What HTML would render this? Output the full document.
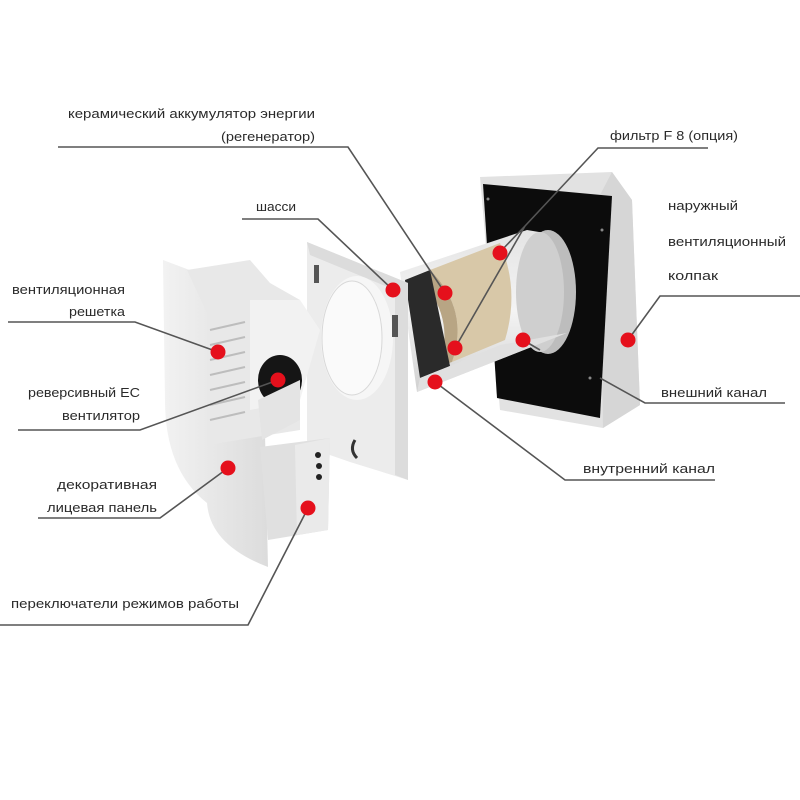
<!DOCTYPE html>
<html><head><meta charset="utf-8"><style>
html,body{margin:0;padding:0;background:#fff;}
svg{display:block}
text{font-family:"Liberation Sans","DejaVu Sans",sans-serif;font-size:13px;fill:#2a2a2a;}
</style></head><body>
<svg width="800" height="800" viewBox="0 0 800 800" xmlns="http://www.w3.org/2000/svg">
<defs>
<linearGradient id="tube" x1="0" y1="0" x2="0" y2="1">
<stop offset="0" stop-color="#e4e4e4"/><stop offset="0.5" stop-color="#f4f4f4"/><stop offset="1" stop-color="#d0d0d0"/>
</linearGradient>
<linearGradient id="panel" x1="0" y1="0" x2="1" y2="0">
<stop offset="0" stop-color="#f2f2f2"/><stop offset="1" stop-color="#dcdcdc"/>
</linearGradient>
</defs>

<polygon points="480,177 612,172 632,200 640,405 603,428 500,410" fill="#e2e2e2"/>
<polygon points="612,172 632,200 640,405 603,428 600,195" fill="#d6d6d6"/>
<polygon points="483,184 612,196 600,418 497,398" fill="#0c0c0c"/>
<circle cx="488" cy="199" r="1.5" fill="#888"/><circle cx="602" cy="230" r="1.5" fill="#888"/><circle cx="590" cy="378" r="1.5" fill="#888"/>

<polygon points="400,272 527,230 557,235 567,333 417,392" fill="url(#tube)"/>
<ellipse cx="548" cy="292" rx="28" ry="62" fill="#bdbdbd"/>
<ellipse cx="540" cy="292" rx="24" ry="60" fill="#cfcfcf"/>
<path d="M430,270 L500,243 Q520,290 505,340 L452,362 Q470,310 430,270 Z" fill="#d8c8a8"/>
<path d="M430,270 Q470,310 452,362 L440,366 Q455,315 420,280 Z" fill="#b8a584"/>
<polygon points="405,280 430,270 450,366 420,378" fill="#2a2a2a"/>
<polygon points="420,378 450,366 500,345 567,333 417,392" fill="#e0e0e0"/>

<polygon points="307,242 408,283 408,480 350,462 307,447" fill="#ececec"/>
<polygon points="307,242 408,283 408,480 395,475 395,290 310,255" fill="#dcdcdc"/>
<ellipse cx="357" cy="338" rx="36" ry="62" fill="#f6f6f6"/>
<ellipse cx="352" cy="338" rx="30" ry="57" fill="#fafafa" stroke="#d8d8d8"/>
<rect x="392" y="315" width="6" height="22" fill="#555"/>
<rect x="314" y="265" width="5" height="18" fill="#555"/>
<path d="M355,440 q-6,10 2,18" stroke="#333" stroke-width="3" fill="none"/>

<path d="M163,260 L200,274 L262,300 L268,567 Q210,545 207,503 Q165,470 165,400 Z" fill="url(#panel)"/>
<polygon points="187,270 250,260 270,283 300,300 300,430 207,445 207,313" fill="#e8e8e8"/>
<g stroke="#bdbdbd" stroke-width="2">
<line x1="210" y1="330" x2="245" y2="322"/><line x1="210" y1="345" x2="245" y2="337"/>
<line x1="210" y1="360" x2="245" y2="352"/><line x1="210" y1="375" x2="245" y2="367"/>
<line x1="210" y1="390" x2="245" y2="382"/><line x1="210" y1="405" x2="245" y2="397"/>
<line x1="210" y1="420" x2="245" y2="412"/>
</g>
<polygon points="250,300 300,300 320,330 300,400 250,410" fill="#f2f2f2"/>
<ellipse cx="280" cy="380" rx="22" ry="25" fill="#151515"/>
<polygon points="258,400 300,380 300,420 262,440" fill="#e4e4e4"/>
<polygon points="260,447 330,438 328,530 268,540" fill="#e0e0e0"/>
<polygon points="295,445 330,438 328,530 297,535" fill="#eaeaea"/>
<circle cx="318" cy="455" r="3" fill="#222"/><circle cx="319" cy="466" r="3" fill="#222"/><circle cx="319" cy="477" r="3" fill="#222"/>

<g stroke="#555" stroke-width="1.6" fill="none">
<polyline points="58,147 348,147 445,293"/>
<polyline points="708,148 598,148 525,226"/>
<line x1="525" y1="226" x2="500" y2="252"/>
<line x1="525" y1="226" x2="455" y2="348"/>
<polyline points="242,219 318,219 393,290"/>
<polyline points="800,296 660,296 628,340"/>
<polyline points="8,322 135,322 218,352"/>
<polyline points="18,430 140,430 278,380"/>
<polyline points="38,518 160,518 228,468"/>
<polyline points="0,625 248,625 308,508"/>
<polyline points="600,378 645,403 785,403"/>
<polyline points="435,382 565,480 715,480"/>
<line x1="523" y1="340" x2="540" y2="350"/>
</g>

<g fill="#e5101c">
<circle cx="393" cy="290" r="7.5"/><circle cx="445" cy="293" r="7.5"/>
<circle cx="500" cy="253" r="7.5"/><circle cx="455" cy="348" r="7.5"/>
<circle cx="523" cy="340" r="7.5"/><circle cx="628" cy="340" r="7.5"/>
<circle cx="435" cy="382" r="7.5"/><circle cx="218" cy="352" r="7.5"/>
<circle cx="278" cy="380" r="7.5"/><circle cx="228" cy="468" r="7.5"/>
<circle cx="308" cy="508" r="7.5"/>
</g>

<text x="315" y="118" text-anchor="end" textLength="247" lengthAdjust="spacingAndGlyphs">керамический аккумулятор энергии</text>
<text x="315" y="141" text-anchor="end" textLength="94" lengthAdjust="spacingAndGlyphs">(регенератор)</text>
<text x="610" y="140" textLength="128" lengthAdjust="spacingAndGlyphs">фильтр  F 8 (опция)</text>
<text x="256" y="211" textLength="40" lengthAdjust="spacingAndGlyphs">шасси</text>
<text x="668" y="210" textLength="70" lengthAdjust="spacingAndGlyphs">наружный</text>
<text x="668" y="246" textLength="118" lengthAdjust="spacingAndGlyphs">вентиляционный</text>
<text x="668" y="280" textLength="50" lengthAdjust="spacingAndGlyphs">колпак</text>
<text x="12" y="294" textLength="113" lengthAdjust="spacingAndGlyphs">вентиляционная</text>
<text x="125" y="316" text-anchor="end" textLength="56" lengthAdjust="spacingAndGlyphs">решетка</text>
<text x="140" y="397" text-anchor="end" textLength="112" lengthAdjust="spacingAndGlyphs">реверсивный EC</text>
<text x="140" y="420" text-anchor="end" textLength="78" lengthAdjust="spacingAndGlyphs">вентилятор</text>
<text x="157" y="489" text-anchor="end" textLength="100" lengthAdjust="spacingAndGlyphs">декоративная</text>
<text x="157" y="512" text-anchor="end" textLength="110" lengthAdjust="spacingAndGlyphs">лицевая панель</text>
<text x="11" y="608" textLength="228" lengthAdjust="spacingAndGlyphs">переключатели режимов работы</text>
<text x="661" y="397" textLength="106" lengthAdjust="spacingAndGlyphs">внешний канал</text>
<text x="583" y="473" textLength="132" lengthAdjust="spacingAndGlyphs">внутренний канал</text>
</svg>
</body></html>
